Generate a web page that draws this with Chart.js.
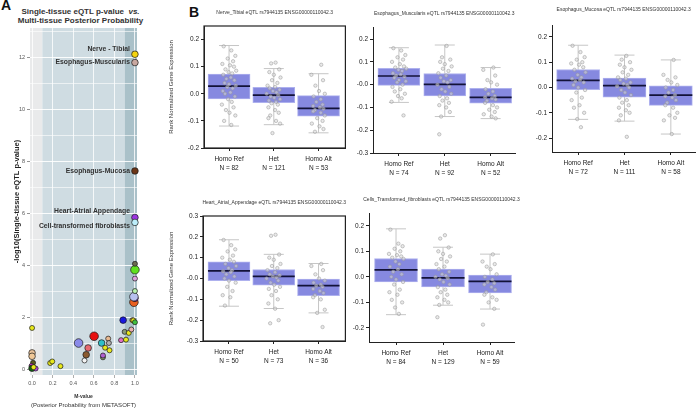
<!DOCTYPE html>
<html>
<head>
<meta charset="utf-8">
<script src="https://cdn.jsdelivr.net/npm/chart.js@4.4.1/dist/chart.umd.min.js"></script>
<style>
  body { margin: 0; width: 700px; height: 409px; background: #fff; position: relative; overflow: hidden;
         font-family: 'Liberation Sans', Arial, sans-serif; }
  canvas { position: absolute; }
  .letter { position: absolute; font-weight: bold; font-size: 14px; line-height: 14px; color: #111; }
  #titleA { position: absolute; left: 0; top: 7px; width: 161px; text-align: center; font-weight: bold;
            font-size: 8px; line-height: 9px; color: #333; }
</style>
</head>
<body>
<div class="letter" style="left:1px;top:-2px">A</div>
<div class="letter" style="left:189px;top:5px">B</div>
<div id="titleA">Single-tissue eQTL p-value&nbsp; <i>vs.</i><br>Multi-tissue Posterior Probability</div>

<canvas id="scatterA" width="150" height="409" style="left:0;top:0"></canvas>
<canvas id="nerve" width="190" height="185" style="left:160px;top:0"></canvas>
<canvas id="muscularis" width="170" height="185" style="left:350px;top:0"></canvas>
<canvas id="mucosa" width="180" height="185" style="left:520px;top:0"></canvas>
<canvas id="heart" width="190" height="185" style="left:160px;top:190px"></canvas>
<canvas id="cells" width="170" height="185" style="left:350px;top:190px"></canvas>

<script>
// ---- panel A: M-value vs -log10 p ----
const tissueLabels = ['Nerve - Tibial', 'Esophagus-Muscularis', 'Esophagus-Mucosa',
                      'Heart-Atrial Appendage', 'Cell-transformed fibroblasts'];
const mValue = [1.0, 1.0, 1.0, 1.0, 1.0,
  0.0, 0.0, 0.0, 0.01, -0.005, 0.0, 0.035, 0.015,
  0.176, 0.196, 0.276, 0.452, 0.51, 0.526, 0.545, 0.603, 0.676, 0.689, 0.689,
  0.71, 0.74, 0.747, 0.753, 0.865, 0.913, 0.885, 0.90, 0.94, 0.965, 0.975, 0.985, 1.0,
  0.99, 1.0, 0.99, 1.0, 1.0, 1.0, 1.0];
const logP = [12.14, 11.82, 7.65, 5.86, 5.67,
  1.61, 0.65, 0.52, 0.27, 0.15, 0.06, 0.05, 0.10,
  0.26, 0.32, 0.14, 1.03, 0.36, 0.58, 0.84, 1.29, 1.03, 0.48, 0.55,
  0.85, 1.20, 1.03, 0.75, 1.14, 1.16, 1.91, 1.46, 1.42, 1.55, 1.91, 1.90, 1.83,
  2.60, 2.75, 2.81, 3.03, 3.51, 3.85, 4.08];
const tissueColor = ['#f4d40f', '#c8a8a0', '#6b3516', '#9b35e0', '#bdeefa',
  '#e8e81a', '#e8c29a', '#f0c898', '#5a5a20', '#e030e0', '#106010', '#b040e0', '#e8e81a',
  '#e8e81a', '#e8e81a', '#e8e81a', '#8a8ae8', '#f4f4f4', '#8a5a30', '#e86a70', '#e81010', '#30c0c8', '#8a9a70', '#b060d0',
  '#e8e81a', '#e8b890', '#b0b0b0', '#e8e81a', '#e070c0', '#e8e81a', '#1818e0', '#8a9a78', '#e8e81a', '#e8b0b0', '#e8a840', '#e8e81a', '#40c040',
  '#e86020', '#7010b0', '#b8c0f0', '#b8f0b0', '#e0a0e0', '#60e020', '#6a6a50'];
const sizeClass = [2, 2, 2, 2, 2,
  1, 2, 2, 1, 1, 2, 1, 1,
  1, 1, 1, 3, 1, 2, 2, 3, 2, 1, 1,
  1, 1, 1, 1, 1, 1, 2, 1, 1, 1, 1, 1, 1,
  3, 2, 3, 1, 1, 3, 1];
const mTicks = [0, 0.2, 0.4, 0.6, 0.8, 1.0];
const pTicks = [0, 1, 2, 3, 4, 5, 6, 7, 8, 9, 10, 11, 12, 13];
const M_BANDS = [0.1, 0.9];

// ---- panel B: box plots ----
const GROUPS = ['Homo Ref', 'Het', 'Homo Alt'];
// per group: [whisker low, Q1, median, Q3, whisker high]
const nerveN = [82, 121, 53];
const nerveStats = [[-0.119, -0.019, 0.028, 0.073, 0.178], [-0.114, -0.033, -0.005, 0.024, 0.093], [-0.144, -0.083, -0.054, -0.007, 0.074]];
const nervePts = [
  [0.175, 0.16, 0.14, 0.13, 0.12, 0.11, 0.105, 0.1, 0.09, 0.085, 0.08, 0.075, 0.07, 0.06, 0.055, 0.05, 0.04, 0.035, 0.03, 0.025, 0.02, 0.01, 0.005, 0.0, -0.01, -0.02, -0.03, -0.04, -0.05, -0.06, -0.07, -0.08, -0.1, -0.115],
  [0.115, 0.112, 0.09, 0.08, 0.07, 0.06, 0.05, 0.04, 0.03, 0.025, 0.02, 0.015, 0.01, 0.005, 0.0, -0.005, -0.01, -0.015, -0.02, -0.025, -0.03, -0.035, -0.04, -0.05, -0.06, -0.07, -0.08, -0.09, -0.1, -0.11, -0.145],
  [0.107, 0.07, 0.05, 0.03, 0.01, 0.0, -0.01, -0.02, -0.03, -0.04, -0.045, -0.05, -0.055, -0.06, -0.065, -0.07, -0.08, -0.09, -0.1, -0.11, -0.12, -0.13, -0.14]];
const nerveTicks = [-0.2, -0.1, 0, 0.1, 0.2];
const nerveTickLabels = ['-0.2', '-0.1', '0.0', '0.1', '0.2'];

const muscN = [74, 92, 52];
const muscStats = [[-0.078, -0.003, 0.038, 0.072, 0.162], [-0.14, -0.05, 0.001, 0.049, 0.174], [-0.149, -0.081, -0.056, -0.016, 0.075]];
const muscPts = [
  [0.16, 0.15, 0.13, 0.12, 0.11, 0.1, 0.09, 0.08, 0.075, 0.07, 0.065, 0.06, 0.05, 0.045, 0.04, 0.035, 0.03, 0.02, 0.015, 0.01, 0.0, -0.01, -0.02, -0.03, -0.04, -0.05, -0.06, -0.075, -0.135],
  [0.17, 0.12, 0.11, 0.1, 0.09, 0.08, 0.07, 0.06, 0.05, 0.04, 0.03, 0.02, 0.015, 0.01, 0.0, -0.01, -0.02, -0.03, -0.04, -0.05, -0.06, -0.07, -0.08, -0.09, -0.1, -0.12, -0.14, -0.218],
  [0.075, 0.065, 0.04, 0.02, 0.01, 0.0, -0.02, -0.03, -0.04, -0.05, -0.055, -0.06, -0.065, -0.07, -0.08, -0.09, -0.1, -0.11, -0.12, -0.13, -0.14, -0.148]];
const muscTicks = [-0.3, -0.2, -0.1, 0, 0.1, 0.2];
const muscTickLabels = ['-0.3', '-0.2', '-0.1', '-0.0', '0.1', '0.2'];

const mucoN = [72, 111, 58];
const mucoStats = [[-0.126, -0.009, 0.028, 0.071, 0.167], [-0.133, -0.038, 0.007, 0.037, 0.128], [-0.184, -0.071, -0.03, 0.007, 0.109]];
const mucoPts = [
  [0.165, 0.14, 0.12, 0.11, 0.1, 0.095, 0.09, 0.08, 0.07, 0.06, 0.05, 0.04, 0.035, 0.03, 0.025, 0.02, 0.01, 0.0, -0.01, -0.02, -0.04, -0.05, -0.07, -0.08, -0.1, -0.125, -0.157],
  [0.125, 0.11, 0.1, 0.09, 0.08, 0.07, 0.06, 0.05, 0.04, 0.035, 0.03, 0.02, 0.015, 0.01, 0.005, 0.0, -0.01, -0.02, -0.03, -0.04, -0.05, -0.06, -0.07, -0.08, -0.09, -0.1, -0.11, -0.13, -0.195],
  [0.109, 0.05, 0.04, 0.03, 0.02, 0.01, 0.0, -0.01, -0.02, -0.03, -0.035, -0.04, -0.05, -0.06, -0.07, -0.08, -0.1, -0.11, -0.12, -0.13, -0.184]];
const mucoTicks = [-0.2, -0.1, 0, 0.1, 0.2];
const mucoTickLabels = ['-0.2', '-0.1', '0.0', '0.1', '0.2'];

const heartN = [50, 73, 36];
const heartStats = [[-0.133, -0.01, 0.037, 0.08, 0.186], [-0.144, -0.032, 0.01, 0.043, 0.116], [-0.165, -0.083, -0.034, -0.003, 0.072]];
const heartPts = [
  [0.185, 0.16, 0.14, 0.13, 0.11, 0.1, 0.09, 0.08, 0.07, 0.06, 0.05, 0.04, 0.035, 0.03, 0.02, 0.01, 0.0, -0.01, -0.02, -0.04, -0.06, -0.08, -0.09, -0.13],
  [0.21, 0.205, 0.115, 0.1, 0.09, 0.07, 0.06, 0.05, 0.04, 0.03, 0.02, 0.015, 0.01, 0.005, 0.0, -0.01, -0.02, -0.03, -0.04, -0.05, -0.06, -0.08, -0.1, -0.12, -0.145, -0.2, -0.215],
  [0.07, 0.06, 0.04, 0.02, 0.0, -0.01, -0.02, -0.03, -0.035, -0.04, -0.05, -0.06, -0.07, -0.08, -0.09, -0.1, -0.15, -0.165, -0.233]];
const heartTicks = [-0.3, -0.2, -0.1, 0, 0.1, 0.2, 0.3];
const heartTickLabels = ['-0.3', '-0.2', '-0.1', '-0.0', '0.1', '0.2', '0.3'];

const cellsN = [84, 129, 59];
const cellsStats = [[-0.148, -0.02, 0.027, 0.072, 0.188], [-0.111, -0.039, -0.004, 0.03, 0.116], [-0.126, -0.063, -0.018, 0.007, 0.089]];
const cellsPts = [
  [0.185, 0.13, 0.12, 0.11, 0.1, 0.09, 0.085, 0.08, 0.075, 0.07, 0.06, 0.05, 0.04, 0.03, 0.02, 0.01, 0.0, -0.01, -0.02, -0.03, -0.05, -0.06, -0.07, -0.09, -0.1, -0.12, -0.145],
  [0.163, 0.15, 0.115, 0.1, 0.09, 0.08, 0.07, 0.06, 0.05, 0.04, 0.03, 0.02, 0.01, 0.005, 0.0, -0.005, -0.01, -0.02, -0.03, -0.04, -0.05, -0.06, -0.07, -0.08, -0.09, -0.1, -0.11, -0.158],
  [0.088, 0.06, 0.05, 0.04, 0.03, 0.01, 0.0, -0.01, -0.02, -0.025, -0.03, -0.04, -0.05, -0.06, -0.07, -0.08, -0.09, -0.1, -0.125, -0.187]];
const cellsTicks = [-0.2, -0.1, 0, 0.1, 0.2];
const cellsTickLabels = ['-0.2', '-0.1', '0.0', '0.1', '0.2'];

// fixed horizontal spread for the dots inside each group (category units)
const JITTER = [-0.12, 0.05, 0.14, -0.03, 0.09, -0.15, 0.02, 0.11, -0.08, 0.16, -0.01, 0.07, -0.13, 0.04,
  -0.06, 0.12, -0.1, 0.0, 0.15, -0.04, 0.08, -0.14, 0.03, -0.09, 0.13, -0.02, 0.06, -0.16, 0.1, -0.07,
  0.01, 0.14, -0.11, 0.05, -0.05, 0.09, -0.12, 0.03, 0.11, -0.08];

Chart.defaults.font.family = "'Liberation Sans', Arial, sans-serif";
Chart.defaults.animation = false;
Chart.defaults.events = [];
Chart.defaults.plugins.legend.display = false;
Chart.defaults.plugins.tooltip.enabled = false;

// ---------- panel A ----------
const RADIUS = { 1: 2.5, 2: 3.3, 3: 4.3 };
const LABEL_NUDGE = [-5, 0, 0, -6.5, 3.5];

const bandsPlugin = {
  id: 'bands',
  beforeDraw(chart) {
    const { ctx, chartArea: a, scales: { x } } = chart;
    const x1 = x.getPixelForValue(M_BANDS[0]), x2 = x.getPixelForValue(M_BANDS[1]);
    ctx.save();
    ctx.fillStyle = '#e9eaeb';
    ctx.fillRect(a.left, a.top, x1 - a.left, a.height);
    ctx.fillStyle = '#cfdce2';
    ctx.fillRect(x1, a.top, x2 - x1, a.height);
    ctx.fillStyle = '#aac1c9';
    ctx.fillRect(x2, a.top, a.right - x2, a.height);
    ctx.restore();
  },
  afterDatasetsDraw(chart) {
    const { ctx } = chart;
    const meta = chart.getDatasetMeta(0);
    ctx.save();
    ctx.font = 'bold 6.8px "Liberation Sans", Arial, sans-serif';
    ctx.fillStyle = '#333';
    ctx.textAlign = 'right';
    ctx.textBaseline = 'middle';
    tissueLabels.forEach((t, i) => {
      const p = meta.data[i];
      ctx.fillText(t, p.x - 5, p.y + LABEL_NUDGE[i]);
    });
    ctx.restore();
  },
  afterDraw(chart) {
    const { ctx, chartArea: a } = chart;
    const cx = (a.left + a.right) / 2;
    ctx.save();
    ctx.textAlign = 'center';
    ctx.textBaseline = 'middle';
    ctx.fillStyle = '#333';
    ctx.font = 'bold 5px "Liberation Sans", Arial, sans-serif';
    ctx.fillText('M-value', cx, a.bottom + 22);
    ctx.font = '6px "Liberation Sans", Arial, sans-serif';
    ctx.fillText('(Posterior Probability from METASOFT)', cx, a.bottom + 30);
    ctx.restore();
  }
};

new Chart(document.getElementById('scatterA'), {
  type: 'scatter',
  data: {
    datasets: [{
      data: mValue.map((m, i) => ({ x: m, y: logP[i] })),
      pointRadius: sizeClass.map(s => RADIUS[s]),
      pointBackgroundColor: tissueColor,
      pointBorderColor: '#1a1a1a',
      pointBorderWidth: 0.7,
      clip: false
    }]
  },
  options: {
    responsive: false,
    layout: { padding: { left: 0, top: 28, right: 13, bottom: 0 } },
    scales: {
      x: {
        type: 'linear', min: -0.02, max: 1.02,
        afterBuildTicks: s => { s.ticks = mTicks.map(v => ({ value: v })); },
        afterFit: s => { s.height = 34; },
        ticks: { callback: v => v.toFixed(1), font: { size: 5.5 }, color: '#555', padding: 2, maxRotation: 0, autoSkip: false },
        grid: { color: '#fff', lineWidth: 0.8, tickLength: 3, tickColor: '#999' },
        border: { display: false }
      },
      y: {
        min: -0.2, max: 13.15,
        afterBuildTicks: s => { s.ticks = pTicks.map(v => ({ value: v })); },
        afterFit: s => { s.width = 30; },
        ticks: { callback: v => (v % 2 === 0 ? String(v) : ''), font: { size: 5.5 }, color: '#555', padding: 2, autoSkip: false },
        grid: {
          color: '#fff',
          lineWidth: c => (c.tick && c.tick.value % 2 === 0 ? 0.9 : 0.6),
          tickLength: 3,
          tickColor: c => (c.tick && c.tick.value % 2 === 0 ? '#888' : 'rgba(0,0,0,0)')
        },
        border: { display: false },
        title: {
          display: true, text: '-log10(Single-tissue eQTL p-value)',
          font: { size: 7.5, weight: 'bold' }, color: '#222', padding: { top: 12.5, bottom: 0 }
        }
      }
    }
  },
  plugins: [bandsPlugin]
});

// ---------- panel B ----------
function boxPlugin(stats, lay, title) {
  return {
    id: 'boxParts',
    beforeDatasetsDraw(chart) {
      const { ctx, scales: { x, y } } = chart;
      ctx.save();
      ctx.strokeStyle = '#c6c6c6';
      ctx.lineWidth = 1;
      stats.forEach((s, i) => {
        const px = x.getPixelForValue(i + 1);
        ctx.beginPath();
        ctx.moveTo(px, y.getPixelForValue(s[0]));
        ctx.lineTo(px, y.getPixelForValue(s[4]));
        [s[0], s[4]].forEach(v => {
          const py = y.getPixelForValue(v);
          ctx.moveTo(px - 10, py);
          ctx.lineTo(px + 10, py);
        });
        ctx.stroke();
      });
      ctx.restore();
    },
    afterDatasetDraw(chart, args) {
      if (args.meta.type !== 'bar') return;
      const { ctx, scales: { x, y } } = chart;
      ctx.save();
      ctx.strokeStyle = '#121238';
      ctx.lineWidth = 1.7;
      stats.forEach((s, i) => {
        const px = x.getPixelForValue(i + 1), py = y.getPixelForValue(s[2]);
        ctx.beginPath();
        ctx.moveTo(px - lay.bw / 2, py);
        ctx.lineTo(px + lay.bw / 2, py);
        ctx.stroke();
      });
      ctx.restore();
    },
    afterDraw(chart) {
      const { ctx, chartArea: a } = chart;
      ctx.save();
      ctx.font = '5px "Liberation Sans", Arial, sans-serif';
      ctx.fillStyle = '#333';
      ctx.textAlign = 'center';
      ctx.textBaseline = 'middle';
      ctx.fillText(title, (a.left + a.right) / 2, a.top - lay.titleGap);
      if (lay.frame) {
        ctx.strokeStyle = '#222';
        ctx.lineWidth = 1.2;
        ctx.strokeRect(a.left, a.top, a.right - a.left, a.bottom - a.top);
      }
      ctx.restore();
    }
  };
}

function boxChart(id, title, n, stats, pts, yTicks, yLabels, lay) {
  const dots = [];
  pts.forEach((g, gi) => g.forEach((v, k) => {
    dots.push({ x: gi + 1 + JITTER[(k + gi * 13) % JITTER.length], y: v });
  }));
  return new Chart(document.getElementById(id), {
    type: 'bar',
    data: {
      datasets: [
        {
          type: 'scatter', data: dots, order: 0,
          pointRadius: 1.7, pointBackgroundColor: 'rgba(215,215,215,0.55)',
          pointBorderColor: 'rgba(150,150,150,0.85)', pointBorderWidth: 0.6
        },
        {
          type: 'bar', order: 1,
          data: stats.map((s, i) => ({ x: i + 1, y: [s[1], s[3]] })),
          backgroundColor: '#8689e0', borderColor: '#aeb1ee', borderWidth: 1,
          borderSkipped: false, barThickness: lay.bw
        }
      ]
    },
    options: {
      responsive: false,
      layout: { padding: { left: 0, top: lay.top, right: lay.right, bottom: 0 } },
      scales: {
        x: {
          type: 'linear', min: lay.xMin, max: lay.xMax, offset: false,
          afterBuildTicks: s => { s.ticks = GROUPS.map((g, i) => ({ value: i + 1 })); },
          afterFit: s => { s.height = lay.xh; },
          ticks: {
            callback: v => [GROUPS[v - 1], 'N = ' + n[v - 1]],
            font: { size: 6.5, lineHeight: 1.5 }, color: '#222', padding: 3, maxRotation: 0, autoSkip: false
          },
          grid: { drawOnChartArea: false, offset: false, tickLength: 3, tickColor: '#222' },
          border: { color: '#222', width: 1 }
        },
        y: {
          min: lay.yMin, max: lay.yMax,
          afterBuildTicks: s => { s.ticks = yTicks.map(v => ({ value: v })); },
          afterFit: s => { s.width = lay.yw; },
          ticks: { callback: (v, i) => yLabels[i], font: { size: 6.5 }, color: '#222', padding: 2, autoSkip: false },
          grid: { drawOnChartArea: false, tickLength: 3, tickColor: '#222' },
          border: { color: '#222', width: 1 },
          title: {
            display: !!lay.yTitle, text: 'Rank Normalized Gene Expression',
            font: { size: 6 }, color: '#333', padding: { top: 8, bottom: 0 }
          }
        }
      }
    },
    plugins: [boxPlugin(stats, lay, title)]
  });
}

boxChart('nerve', 'Nerve_Tibial eQTL rs7944135 ENSG00000110042.3', nerveN, nerveStats, nervePts, nerveTicks, nerveTickLabels,
  { yw: 44, top: 26, right: 4, xh: 37, xMin: 0.44, xMax: 3.6, bw: 42, yMin: -0.2, yMax: 0.25, frame: true, yTitle: true, titleGap: 13 });
boxChart('muscularis', 'Esophagus_Muscularis eQTL rs7944135 ENSG00000110042.3', muscN, muscStats, muscPts, muscTicks, muscTickLabels,
  { yw: 23, top: 27, right: 4, xh: 32, xMin: 0.435, xMax: 3.54, bw: 42, yMin: -0.3, yMax: 0.253, frame: false, yTitle: false, titleGap: 13 });
boxChart('mucosa', 'Esophagus_Mucosa eQTL rs7944135 ENSG00000110042.3', mucoN, mucoStats, mucoPts, mucoTicks, mucoTickLabels,
  { yw: 32, top: 25, right: 3, xh: 33, xMin: 0.436, xMax: 3.53, bw: 43, yMin: -0.255, yMax: 0.247, frame: false, yTitle: false, titleGap: 15 });
boxChart('heart', 'Heart_Atrial_Appendage eQTL rs7944135 ENSG00000110042.3', heartN, heartStats, heartPts, heartTicks, heartTickLabels,
  { yw: 43, top: 26, right: 4, xh: 34, xMin: 0.42, xMax: 3.6, bw: 42, yMin: -0.3, yMax: 0.3, frame: true, yTitle: true, titleGap: 13 });
boxChart('cells', 'Cells_Transformed_fibroblasts eQTL rs7944135 ENSG00000110042.3', cellsN, cellsStats, cellsPts, cellsTicks, cellsTickLabels,
  { yw: 19, top: 23, right: 6, xh: 33, xMin: 0.425, xMax: 3.51, bw: 43, yMin: -0.255, yMax: 0.25, frame: false, yTitle: false, titleGap: 13 });
</script>
</body>
</html>
